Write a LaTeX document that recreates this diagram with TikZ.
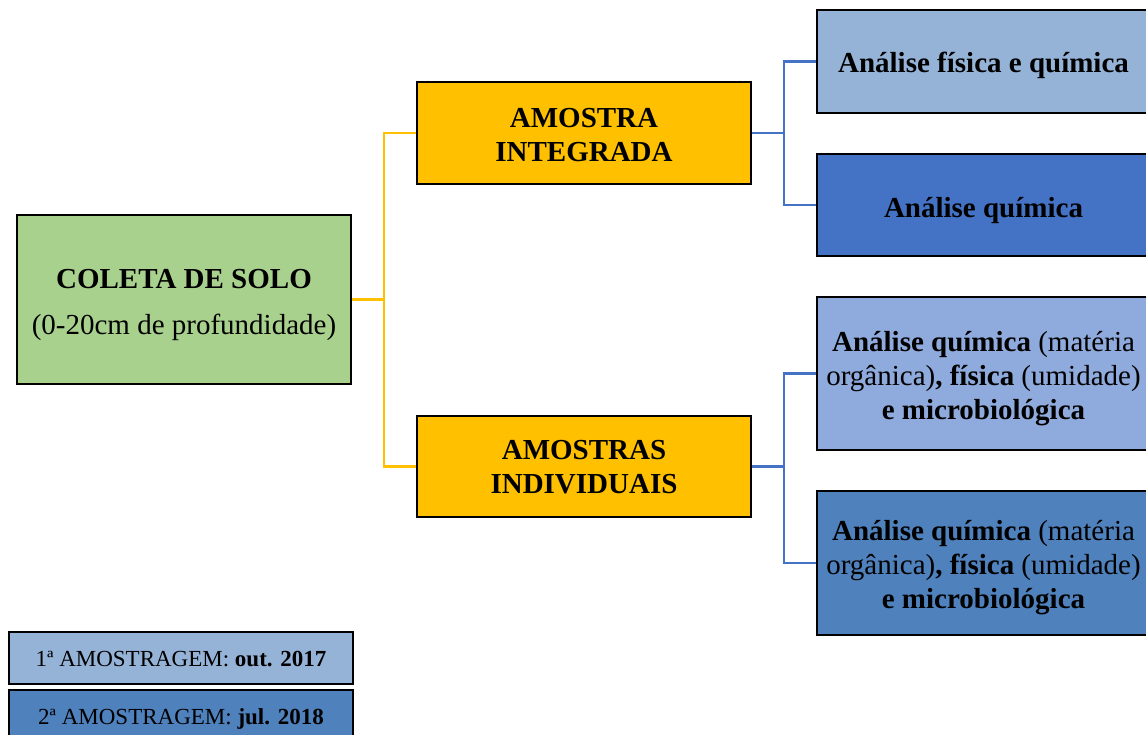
\documentclass[tikz,border=0pt]{standalone}
\usepackage{fontspec}
\setmainfont{Liberation Serif}
\definecolor{cgreen}{HTML}{A9D18E}
\definecolor{corange}{HTML}{FFC000}
\definecolor{clight}{HTML}{95B3D7}
\definecolor{cmid}{HTML}{8FAADC}
\definecolor{cdark}{HTML}{4472C4}
\definecolor{csteel}{HTML}{4F81BD}
\begin{document}
\begin{tikzpicture}[x=1pt,y=-1pt,
  box/.style={draw=black,line width=2.5pt,inner sep=0pt},
  txt/.style={inner sep=0pt,align=center,font=\fontsize{29}{34}\selectfont},
  legbox/.style={draw=black,line width=2pt,inner sep=0pt,minimum width=344pt},
  legtxt/.style={inner sep=0pt,align=center,font=\fontsize{23}{26}\selectfont},
  yline/.style={draw=corange,line width=2.2pt},
  bline/.style={draw=cdark,line width=2.2pt}]
\useasboundingbox (0,0) rectangle (1146,735);
\clip (0,0) rectangle (1146,735);
% main boxes
\node[box,fill=cgreen,minimum width=334pt,minimum height=169pt,
  label={[txt,yshift=-5pt]center:{\textbf{COLETA DE SOLO}\\[12pt](0-20cm de profundidade)}}]
  (coleta) at (184,299.5) {};
\node[box,fill=corange,minimum width=334pt,minimum height=102pt,
  label={[txt,yshift=-2.5pt]center:{\textbf{AMOSTRA}\\\textbf{INTEGRADA}}}]
  (integ) at (584,133) {};
\node[box,fill=corange,minimum width=334pt,minimum height=101pt,
  label={[txt,yshift=-1pt]center:{\textbf{AMOSTRAS}\\\textbf{INDIVIDUAIS}}}]
  (indiv) at (584,466.5) {};
% right boxes
\node[box,fill=clight,minimum width=333pt,minimum height=103pt,
  label={[txt,yshift=-4pt]center:{\textbf{Análise física e química}}}]
  (r1) at (983.5,61.5) {};
\node[box,fill=cdark,minimum width=333pt,minimum height=102pt,
  label={[txt,yshift=-6pt]center:{\textbf{Análise química}}}]
  (r2) at (983.5,205) {};
\node[box,fill=cmid,minimum width=333pt,minimum height=153pt,
  label={[txt,yshift=-5.5pt]center:{\textbf{Análise química} (matéria\\orgânica)\textbf{, física} (umidade)\\\textbf{e microbiológica}}}]
  (r3) at (983.5,373.5) {};
\node[box,fill=csteel,minimum width=333pt,minimum height=144pt,
  label={[txt,yshift=-5pt]center:{\textbf{Análise química} (matéria\\orgânica)\textbf{, física} (umidade)\\\textbf{e microbiológica}}}]
  (r4) at (983.5,563) {};
% legend
\node[legbox,fill=clight,minimum height=52pt,
  label={[legtxt,yshift=-1pt]center:{1ª AMOSTRAGEM: \textbf{out. 2017}}}]
  (leg1) at (181,658) {};
\node[legbox,fill=csteel,minimum height=52pt,
  label={[legtxt,yshift=-3pt]center:{2ª AMOSTRAGEM: \textbf{jul. 2018}}}]
  (leg2) at (181,716) {};
% connectors
\coordinate (j1) at (384,299.5);
\coordinate (j2) at (784,133);
\coordinate (j3) at (784,466.5);
\draw[yline] (coleta.east) -- (j1);
\draw[yline] (j1) |- (integ.west);
\draw[yline] (j1) |- (indiv.west);
\draw[bline] (integ.east) -- (j2);
\draw[bline] (j2) |- (r1.west);
\draw[bline] (j2) |- (r2.west);
\draw[bline] (indiv.east) -- (j3);
\draw[bline] (j3) |- (r3.west);
\draw[bline] (j3) |- (r4.west);
\end{tikzpicture}
\end{document}
